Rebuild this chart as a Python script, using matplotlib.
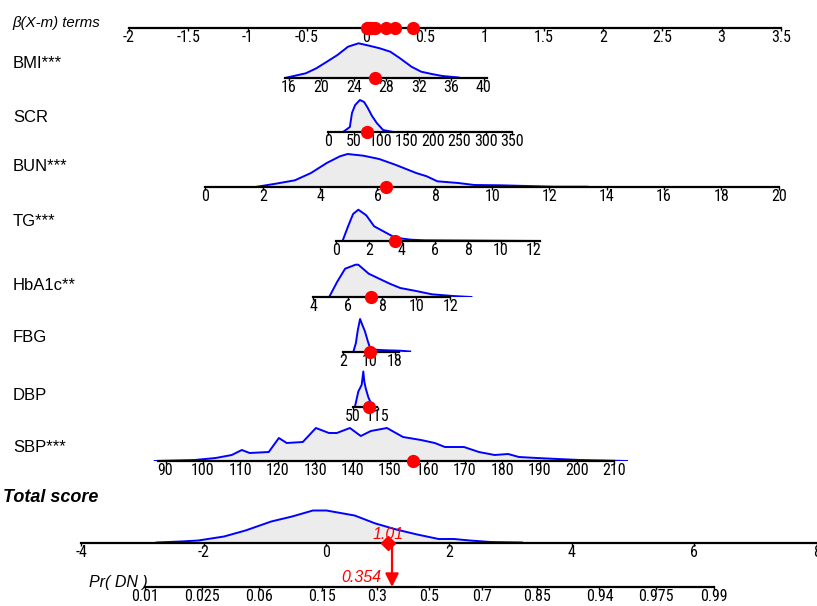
import numpy as np
import matplotlib
matplotlib.use("Agg")
import matplotlib.pyplot as plt
from matplotlib import font_manager as fm

# ---------------- data ----------------
var_labels = ["BMI***", "SCR", "BUN***", "TG***", "HbA1c**", "FBG", "DBP", "SBP***"]
coef = [0.0686, 0.00445, 0.2419, 0.139, 0.1445, 0.02727, 0.003246, 0.03156]
means = [25.51, 72.6, 5.6, 1.815, 7.07, 9.03, 83.8, 143.6]
patient = [26.57, 75.1, 6.29, 3.58, 7.38, 10.27, 91.6, 156.3]

var_ticks = [
    [16, 20, 24, 28, 32, 36, 40],
    [0, 50, 100, 150, 200, 250, 300, 350],
    [0, 2, 4, 6, 8, 10, 12, 14, 16, 18, 20],
    [0, 2, 4, 6, 8, 10, 12],
    [4, 6, 8, 10, 12],
    [2, 10, 18],
    [50, 115],
    [90, 100, 110, 120, 130, 140, 150, 160, 170, 180, 190, 200, 210],
]
var_range = [(15.5, 40.4), (0, 350), (0, 20), (0, 12.4), (4, 12), (2, 19.2), (50, 112), (88, 210)]

dens_x = [
    [15.8, 18.1, 19.4, 20.7, 22.0, 23.3, 24.6, 25.9, 27.2, 28.5, 29.7, 31.1, 32.3, 33.6, 34.9, 36.9],
    [29, 42, 46, 52, 61, 69, 76, 84, 93, 105, 124],
    [1.74, 2.39, 3.12, 3.68, 4.23, 4.69, 4.96, 5.51, 6.06, 6.62, 7.35, 7.72, 8.09, 8.82, 9.38, 10.29, 12.13, 13.33],
    [0.39, 0.71, 1.03, 1.35, 1.83, 2.31, 2.95, 3.59, 4.55, 5.34, 12.38],
    [4.92, 5.38, 5.85, 6.46, 6.62, 7.23, 7.84, 8.46, 9.07, 10.0, 10.92, 12.15, 13.23],
    [5.1, 5.9, 6.5, 7.2, 7.9, 8.7, 9.6, 10.3, 11.8, 15.4, 19.6, 22.7],
    [55.2, 63.8, 68.2, 72.6, 76.8, 79.4, 83.0, 89.8, 98.6, 104.6],
    [87.1, 97.8, 103.4, 107.7, 110.4, 112.5, 117.6, 120.3, 122.4, 126.7, 130.2, 133.7, 135.8, 139.3,
     142.2, 144.9, 149.2, 153.5, 158.3, 162.0, 164.7, 169.8, 173.8, 178.0, 181.6, 184.5, 189.3,
     194.9, 200.8, 213.4],
]
dens_h = [
    [0.5, 4.7, 9.7, 16.3, 23, 31.3, 34.7, 32.3, 29.7, 26.3, 19.7, 11.3, 6.3, 4, 2, 0.5],
    [0, 5, 19, 27, 32, 30, 24, 16, 9, 2, 0],
    [0, 3, 6.7, 14, 24, 30.7, 33, 31.3, 28, 22.3, 14, 10.7, 5.7, 4, 2, 1.7, 0.3, 0.3],
    [0, 14, 27, 31.3, 25.7, 14.7, 9, 3.3, 1.3, 0.7, 0],
    [0, 15, 28.3, 32.3, 32.3, 23.3, 18.3, 13.3, 9, 6, 2.7, 1, 0],
    [0, 9, 22, 33, 27, 20.7, 10.7, 4, 2.3, 1.7, 1.3, 0.5],
    [0, 15, 18.3, 21.7, 35, 25, 18.3, 9.3, 1.7, 0],
    [0, 1, 3, 6, 11, 8, 9, 23, 18, 19, 33, 28, 28, 33, 25, 30, 33, 24, 21, 18, 14, 14, 9, 6, 7, 4,
     3, 2, 1, 0],
]

beta_ticks = [-2, -1.5, -1, -0.5, 0, 0.5, 1, 1.5, 2, 2.5, 3, 3.5]
total_ticks = [-4, -2, 0, 2, 4, 6, 8]
total_dens_x = [-2.77, -2.38, -2.09, -1.67, -1.32, -0.90, -0.56, -0.22, 0.0, 0.46, 0.80, 1.14, 1.48,
                1.83, 2.08, 2.34, 2.68, 3.19]
total_dens_h = [0, 1, 2, 6, 12, 21, 26, 32, 32, 27, 19, 13, 8, 3.5, 3.5, 2, 0.5, 0]
total_score = 1.01
logit_offset = -1.61
prob_ticks = [0.01, 0.025, 0.06, 0.15, 0.3, 0.5, 0.7, 0.85, 0.94, 0.975, 0.99]

# ---------------- layout / style ----------------
W, H = 817, 606
BETA0_PX, BETA_PX = 366.0, 118.5       # pixel of beta=0, pixels per beta unit
TOT0_PX, TOT_PX = 329.5, 61.9          # pixel of total=0, pixels per total unit
top_base = 28
row_base = [78, 132, 187, 241, 297, 352, 406.5, 461]
row_label_y = [63, 118, 167, 222, 285, 338, 395, 448]
total_base, pr_base = 542.5, 587
ROW_H = 42


def has_font(name):
    try:
        fm.findfont(fm.FontProperties(family=name), fallback_to_default=False)
        return True
    except Exception:
        return False


LAB = "Liberation Sans" if has_font("Liberation Sans") else "DejaVu Sans"
NAR = LAB
for cand in ["Roboto Condensed", "Archivo Narrow", "PT Sans Narrow"]:
    if has_font(cand):
        NAR = cand
        break
plt.rcParams["font.family"] = [LAB, "DejaVu Sans"]

FILL = "#ECECEC"
BLUE = "#0000FF"
RED = "#FF0000"
TICK_FS = 11.5

fig = plt.figure(figsize=(W / 100, H / 100), dpi=100)
fig.patch.set_facecolor("white")


def make_row(base_px, xlim, height_px=ROW_H):
    ax = fig.add_axes([0, 1 - base_px / H, 1, height_px / H])
    ax.set_xlim(*xlim)
    ax.set_ylim(0, height_px)
    ax.patch.set_alpha(0)
    for s in ["top", "left", "right"]:
        ax.spines[s].set_visible(False)
    ax.spines["bottom"].set_linewidth(1.6)
    ax.spines["bottom"].set_zorder(3)
    ax.set_yticks([])
    ax.tick_params(axis="x", length=2, width=1, pad=-0.5, labelsize=TICK_FS)
    return ax


def fmt(v):
    return f"{v:g}"


def set_ticks(ax, ticks, labels=None, rng=None):
    ax.set_xticks(ticks)
    ax.set_xticklabels(labels if labels is not None else [fmt(t) for t in ticks], family=[NAR, LAB])
    if rng is not None:
        ax.spines["bottom"].set_bounds(*rng)


# beta axis
ax_top = make_row(top_base, ((0 - BETA0_PX) / BETA_PX, (W - BETA0_PX) / BETA_PX))
set_ticks(ax_top, beta_ticks, rng=(beta_ticks[0], beta_ticks[-1]))
fig.text(12 / W, 1 - 23 / H, r"β(X-m) terms", fontsize=10.8, style="italic", va="center", ha="left")

beta_terms = [c * (x - m) for c, x, m in zip(coef, patient, means)]
ax_top.plot(beta_terms, [0] * len(beta_terms), "o", color=RED, ms=8.5, clip_on=False, zorder=5)

# variable rows
for i, lab in enumerate(var_labels):
    c, m = coef[i], means[i]
    xl = (m + (0 - BETA0_PX) / (BETA_PX * c), m + (W - BETA0_PX) / (BETA_PX * c))
    ax = make_row(row_base[i], xl)
    set_ticks(ax, var_ticks[i], rng=var_range[i])
    ax.fill_between(dens_x[i], 0, dens_h[i], color=FILL, lw=0, zorder=1)
    ax.plot(dens_x[i], dens_h[i], color=BLUE, lw=1.4, zorder=2)
    ax.plot([patient[i]], [0], "o", color=RED, ms=8.5, clip_on=False, zorder=5)
    fig.text(13 / W, 1 - row_label_y[i] / H, lab, fontsize=12, va="center", ha="left")

# total score
tl = ((0 - TOT0_PX) / TOT_PX, (W - TOT0_PX) / TOT_PX)
ax_tot = make_row(total_base, tl)
set_ticks(ax_tot, total_ticks, rng=(-4, 9))
ax_tot.fill_between(total_dens_x, 0, total_dens_h, color=FILL, lw=0, zorder=1)
ax_tot.plot(total_dens_x, total_dens_h, color=BLUE, lw=1.4, zorder=2)
ax_tot.plot([total_score], [0], "D", color=RED, ms=7.5, clip_on=False, zorder=6)
ax_tot.annotate(fmt(total_score), xy=(total_score, 0), xytext=(0, 6), textcoords="offset points",
                ha="center", va="center", color=RED, style="italic", fontsize=11.5, zorder=7)
fig.text(3 / W, 1 - 498 / H, "Total score", fontsize=13, weight="bold", style="italic",
         va="center", ha="left")

# probability axis
ax_pr = make_row(pr_base, tl, height_px=pr_base - total_base)
logit = lambda p: np.log(p / (1 - p))
prob_pos = [logit(p) - logit_offset for p in prob_ticks]
set_ticks(ax_pr, prob_pos, labels=[fmt(p) for p in prob_ticks], rng=(prob_pos[0], prob_pos[-1]))
prob = 1 / (1 + np.exp(-(total_score + logit_offset)))
ax_pr.annotate("", xy=(total_score, 0), xytext=(total_score, pr_base - total_base),
               arrowprops=dict(arrowstyle="-|>", color=RED, lw=1.6, mutation_scale=20,
                               shrinkA=0, shrinkB=0), zorder=5, annotation_clip=False)
ax_pr.annotate(f"{prob:.3f}", xy=(total_score, 0), xytext=(-8, 7), textcoords="offset points",
               ha="right", va="center", color=RED, style="italic", fontsize=11.5)
fig.text(148 / W, 1 - 583 / H, "Pr( DN )", fontsize=11.5, style="italic", va="center", ha="right")

fig.savefig("out.png", dpi=100, facecolor="white")
